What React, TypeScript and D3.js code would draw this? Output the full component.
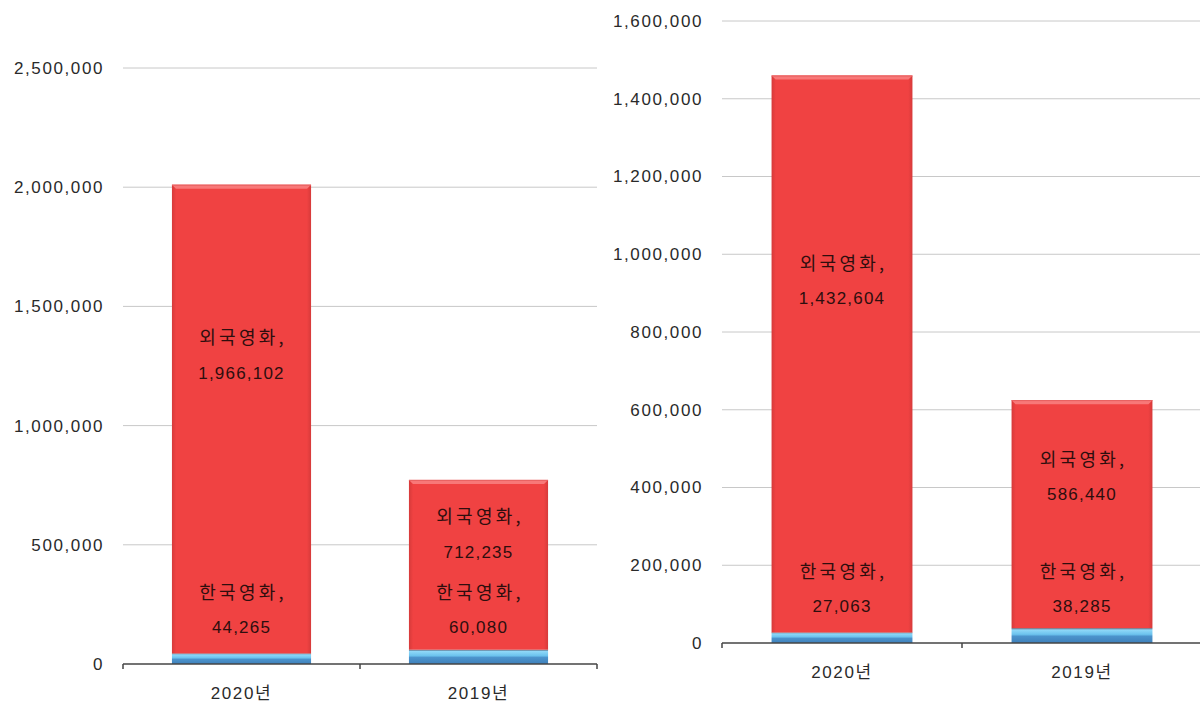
import React from "react";
import * as d3 from "d3";

const categories = ["2020년", "2019년"];
const leftKorean = [44265, 60080];
const leftForeign = [1966102, 712235];
const leftTicks = [0, 500000, 1000000, 1500000, 2000000, 2500000];
const rightKorean = [27063, 38285];
const rightForeign = [1432604, 586440];
const rightTicks = [0, 200000, 400000, 600000, 800000, 1000000, 1200000, 1400000, 1600000];
const seriesNames = ["한국영화", "외국영화"];

const W = 1200;
const H = 705;
const NUM_FONT = "'Liberation Sans', Arial, 'Noto Sans CJK KR', sans-serif";
const KR_FONT = "'Noto Sans CJK KR', 'Liberation Sans', sans-serif";
const fmt = d3.format(",");

type ChartProps = {
  id: string;
  korean: number[];
  foreign: number[];
  ticks: number[];
  xLeft: number;
  xRight: number;
  yBottom: number;
  yTop: number;
  labelRight: number;
};

function Chart({ id, korean, foreign, ticks, xLeft, xRight, yBottom, yTop, labelRight }: ChartProps) {
  const rows = categories.map((c, i) => ({ cat: c, kor: korean[i], frn: foreign[i] }));
  const stack = d3.stack<any>().keys(["kor", "frn"]);
  const series = stack(rows);
  const x = d3
    .scaleBand<string>()
    .domain(categories)
    .range([xLeft, xRight])
    .paddingInner(0.413)
    .paddingOuter(0.2065);
  const y = d3
    .scaleLinear()
    .domain([0, ticks[ticks.length - 1]])
    .range([yBottom, yTop]);
  const step = x.step();
  const bw = x.bandwidth();
  const y0 = y(0);

  return (
    <g>
      <defs>
        <linearGradient id={`red-${id}`} x1="0" x2="1" y1="0" y2="0">
          <stop offset="0" stopColor="#d63a3a" />
          <stop offset="0.03" stopColor="#f04242" />
          <stop offset="0.97" stopColor="#f04242" />
          <stop offset="1" stopColor="#d63a3a" />
        </linearGradient>
        <linearGradient id={`blue-${id}`} x1="0" x2="0" y1="0" y2="1">
          <stop offset="0" stopColor="#5a5f74" />
          <stop offset="0.12" stopColor="#8fd8f8" />
          <stop offset="0.42" stopColor="#6cc3ee" />
          <stop offset="0.55" stopColor="#4b93cc" />
          <stop offset="1" stopColor="#3f80ba" />
        </linearGradient>
      </defs>
      {ticks.slice(1).map((t) => (
        <line key={`g${t}`} x1={xLeft} x2={xRight} y1={y(t)} y2={y(t)} stroke="#c8c8c8" strokeWidth={1} />
      ))}
      {ticks.map((t) => (
        <text
          key={`t${t}`}
          x={labelRight}
          y={y(t)}
          dy="0.35em"
          textAnchor="end"
          fontFamily={NUM_FONT}
          fontSize={17}
          letterSpacing={1.6}
          fill="#2a2a2a"
        >
          {fmt(t)}
        </text>
      ))}
      {series.map((s, si) =>
        s.map((d: any, i: number) => {
          const cat = categories[i];
          const bx = x(cat)!;
          const top = y(d[1]);
          const bot = y(d[0]);
          if (si === 0) {
            return (
              <rect key={`b${si}-${i}`} x={bx} y={top} width={bw} height={bot - top} fill={`url(#blue-${id})`} />
            );
          }
          const bev = 4;
          return (
            <g key={`b${si}-${i}`}>
              <rect x={bx} y={top} width={bw} height={bot - top} fill={`url(#red-${id})`} />
              <polygon
                points={`${bx},${top} ${bx + bw},${top} ${bx + bw - bev},${top + bev} ${bx + bev},${top + bev}`}
                fill="#f87878"
              />
              <line x1={bx} x2={bx + bw} y1={top + 0.5} y2={top + 0.5} stroke="#e66060" strokeWidth={1} />
            </g>
          );
        })
      )}
      {rows.map((r, i) => {
        const cx = x(r.cat)! + bw / 2;
        const yk = y(r.kor);
        const yt = y(r.kor + r.frn);
        const h = yk - yt;
        const fc = yt + 0.39 * h - 12;
        const kc = y0 - 54;
        const block = (c: number, name: string, v: number, key: string) => (
          <g key={key}>
            <text x={cx + 1.5} y={c - 17.5} dy="0.35em" textAnchor="middle" fontFamily={KR_FONT} fontSize={18} letterSpacing={3.2} fill="#2e0e0e">
              {name},
            </text>
            <text x={cx} y={c + 17.5} dy="0.35em" textAnchor="middle" fontFamily={NUM_FONT} fontSize={17} letterSpacing={1.2} fill="#2e0e0e">
              {fmt(v)}
            </text>
          </g>
        );
        return (
          <g key={`l${i}`}>
            {block(fc, seriesNames[1], r.frn, "f")}
            {block(kc, seriesNames[0], r.kor, "k")}
          </g>
        );
      })}
      <line x1={xLeft} x2={xRight} y1={y0} y2={y0} stroke="#444" strokeWidth={1.5} />
      {d3.range(categories.length + 1).map((k) => (
        <line key={`tk${k}`} x1={xLeft + k * step} x2={xLeft + k * step} y1={y0} y2={y0 + 5} stroke="#444" strokeWidth={1.5} />
      ))}
      {categories.map((c) => (
        <text
          key={`x${c}`}
          x={x(c)! + bw / 2}
          y={y0 + 29}
          dy="0.35em"
          textAnchor="middle"
          fontFamily={NUM_FONT}
          fontSize={17}
          letterSpacing={1.6}
          fill="#2a2a2a"
        >
          {c}
        </text>
      ))}
    </g>
  );
}

export default function App() {
  return (
    <div style={{ position: "absolute", left: 0, top: 0, width: W, height: H, background: "#fff" }}>
      <svg width={W} height={H} style={{ display: "block" }}>
        <rect width={W} height={H} fill="#fff" />
        <Chart
          id="l"
          korean={leftKorean}
          foreign={leftForeign}
          ticks={leftTicks}
          xLeft={123}
          xRight={597}
          yBottom={664}
          yTop={68}
          labelRight={104}
        />
        <Chart
          id="r"
          korean={rightKorean}
          foreign={rightForeign}
          ticks={rightTicks}
          xLeft={722}
          xRight={1202}
          yBottom={643}
          yTop={21}
          labelRight={703}
        />
      </svg>
    </div>
  );
}
